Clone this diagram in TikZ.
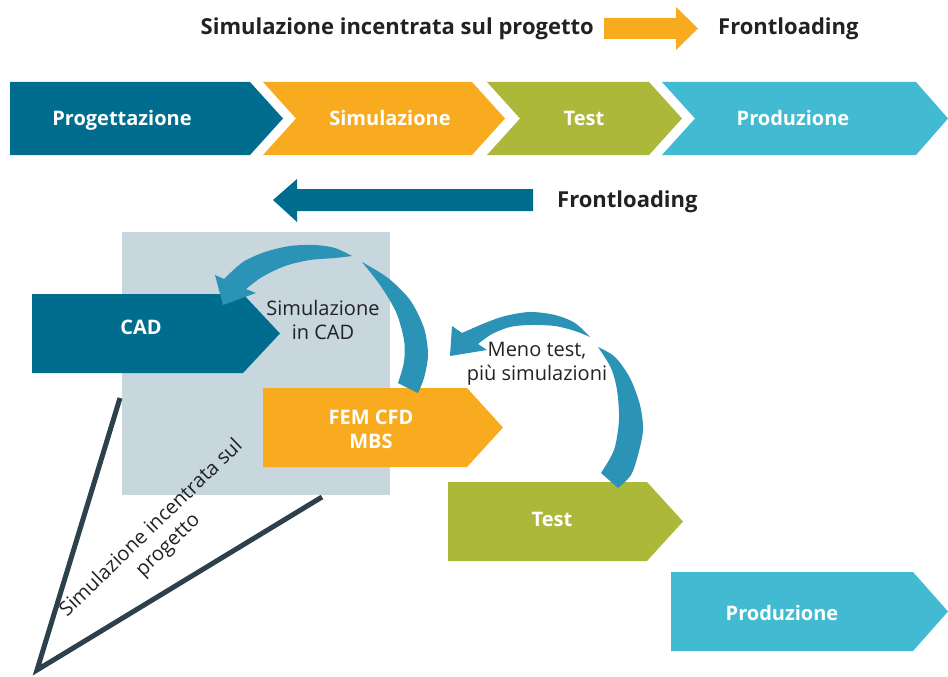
\documentclass[tikz,border=0pt]{standalone}
\usepackage{fontspec}
\setmainfont{Open Sans}
\tikzset{
  etichetta/.style={text=white, font=\fontsize{20}{24}\selectfont\bfseries, align=center, inner sep=0pt},
  fase/.style={etichetta, text height=14.3pt, text depth=0pt},
  testo/.style={text=testoRF, font=\fontsize{20}{24}\selectfont, align=center, inner sep=0pt},
  titolo/.style={text=testoRF, font=\fontsize{22}{26}\selectfont\bfseries, inner sep=0pt}
}
\begin{document}
\begin{tikzpicture}[x=1pt, y=-1pt]
        \definecolor{bluRF}{RGB}{0, 109, 143}
        \definecolor{aranciaRF}{RGB}{249, 171, 31}
        \definecolor{verdeRF}{RGB}{171, 184, 58}
        \definecolor{azzurroRF}{RGB}{66, 186, 210}
        \definecolor{grigioRF}{RGB}{200, 214, 222}
        \definecolor{frecciaRF}{RGB}{43, 147, 181}
        \definecolor{lineaRF}{RGB}{44, 65, 76}
        \definecolor{testoRF}{RGB}{34, 34, 34}
        \useasboundingbox (0,0) rectangle (948,677);
        % titolo
        \node[titolo, anchor=base east] (sip) at (594,35) {Simulazione incentrata sul progetto};
        \node[titolo, anchor=base west] (front) at (718,35) {Frontloading};
        \fill[aranciaRF] (604,18) -- (676,18) -- (676,7) -- (698,28.5) -- (676,50) -- (676,39) -- (604,39) -- cycle;
        % fasi
        \fill[bluRF] (10,82) -- (250,82) -- (283,118.5) -- (250,155) -- (10,155) -- cycle;
        \fill[aranciaRF] (263,82) -- (472,82) -- (505,118.5) -- (472,155) -- (263,155) -- (296,118.5) -- cycle;
        \fill[verdeRF] (487,82) -- (649,82) -- (682,118.5) -- (649,155) -- (487,155) -- (520,118.5) -- cycle;
        \fill[azzurroRF] (662,82) -- (916,82) -- (948,118.5) -- (916,155) -- (662,155) -- (695,118.5) -- cycle;
        \node[fase] (prog) at (122,118.5) {Progettazione};
        \node[fase] (sim) at (390,118.5) {Simulazione};
        \node[fase] (test) at (584,118.5) {Test};
        \node[fase] (prod) at (793,118.5) {Produzione};
        % frontloading
        \fill[bluRF] (533,189) -- (297,189) -- (297,179) -- (273,200) -- (297,222) -- (297,211) -- (533,211) -- cycle;
        \node[titolo, anchor=base west] (front2) at (557,207) {Frontloading};
        % simulazione incentrata
        \fill[grigioRF] (122,232) rectangle (390,495);
        \fill[bluRF] (32,294) -- (243,294) -- (280,333.5) -- (243,373) -- (32,373) -- cycle;
        \fill[aranciaRF] (263,388) -- (467,388) -- (503,427.5) -- (467,467) -- (263,467) -- cycle;
        \fill[verdeRF] (448,482) -- (647,482) -- (683,521.5) -- (647,561) -- (448,561) -- cycle;
        \fill[azzurroRF] (671,572) -- (913,572) -- (948,611.5) -- (913,651) -- (671,651) -- cycle;
        \node[fase] (cad) at (141,327.5) {CAD};
        \node[etichetta] (fem) at (371,429) {FEM CFD\\MBS};
        \node[fase] (test2) at (552,519.5) {Test};
        \node[fase] (prod2) at (782,613) {Produzione};
        % frecce curve
        \fill[frecciaRF] plot[smooth] coordinates {(362,262) (388,278) (410,300) (424,328) (428,355) (424,378) (418,393)}
          -- plot[smooth] coordinates {(398,383) (404,362) (404,340) (396,312) (380,285) (362,262)} -- cycle;
        \fill[frecciaRF] plot[smooth] coordinates {(352,256) (335,248) (315,245) (290,246) (265,252) (243,262) (224,279)}
          -- (215,275) -- (223,305) -- (256,293) -- (246,289)
          -- plot[smooth] coordinates {(246,289) (262,277) (285,266) (310,260) (335,258) (352,256)} -- cycle;
        \fill[frecciaRF] plot[smooth] coordinates {(598,347) (615,357) (630,378) (640,405) (643,430) (638,455) (631,475) (618,488)}
          -- plot[smooth] coordinates {(601,473) (614,450) (619,420) (617,390) (611,368) (598,347)} -- cycle;
        \fill[frecciaRF] plot[smooth] coordinates {(590,337) (575,323) (555,315) (530,312) (505,316) (485,323) (462,333)}
          -- (452,326) -- (450,356) -- (487,350) -- (478,344)
          -- plot[smooth] coordinates {(478,344) (492,334) (510,327) (530,325) (555,326) (575,331) (590,337)} -- cycle;
        \node[testo] (simcad) at (323,320) {Simulazione\\in CAD};
        \node[testo] (meno) at (537,364) {Meno test,\\più simulazioni};
        % triangolo
        \draw[lineaRF, line width=5pt] (120,398) -- (37,670) -- (322,497);
        \node[testo, rotate=44] (incentrata) at (160,537) {Simulazione incentrata sul\\progetto};
    \end{tikzpicture}
\end{document}
